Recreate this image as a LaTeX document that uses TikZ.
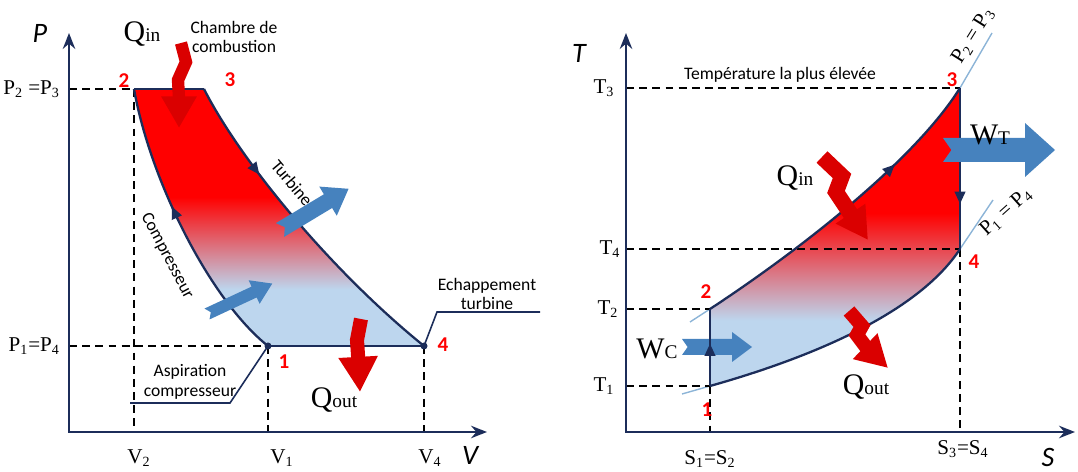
\documentclass[tikz,border=0pt]{standalone}
\usepackage{fontspec}
\setmainfont{Liberation Serif}
\newfontfamily\labelfont{Carlito}
\usetikzlibrary{arrows.meta,decorations.markings}

\definecolor{cyclenavy}{RGB}{28,45,90}
\definecolor{fadeblue}{RGB}{189,214,238}
\definecolor{heatred}{RGB}{218,0,0}
\definecolor{workblue}{RGB}{70,130,190}
\definecolor{isobar}{RGB}{140,180,215}

\pgfdeclareverticalshading{cyclefade}{100bp}{color(0bp)=(fadeblue); color(36bp)=(fadeblue); color(54bp)=(red); color(100bp)=(red)}

\tikzset{
  axisline/.style={{Stealth[length=9pt,width=7pt]}-{Stealth[length=9pt,width=7pt]}, line width=1.6pt, cyclenavy},
  guide/.style={dash pattern=on 4.5pt off 3pt, line width=1pt, black},
  process/.style={line width=1.3pt, cyclenavy},
  leader/.style={line width=0.9pt, cyclenavy},
  midarrow/.style={postaction={decorate}, decoration={markings, mark=at position #1 with {\arrow{Triangle[length=7pt,width=6pt]}}}},
  heat/.style={heatred, line width=8pt, -{Triangle[length=18pt,width=19pt]}},
  num/.style={text=red, font=\labelfont\bfseries\fontsize{12}{12}\selectfont},
  tick/.style={font=\fontsize{12}{12}\selectfont},
  note/.style={font=\labelfont\fontsize{10}{11}\selectfont, align=center},
  axislabel/.style={font=\labelfont\itshape\fontsize{16}{16}\selectfont},
  qlabel/.style={font=\fontsize{17}{17}\selectfont}
}
% heat / work label: big letter, small index
\newcommand\qsym[2]{#1{\fontsize{11}{11}\selectfont #2}}
% notched block arrow: x, y, angle, length, shaft half, head half, head length
\newcommand\workarrow[7]{%
  \fill[workblue, shift={(#1,#2)}, rotate=#3] (0,-#5) -- (#4-#7,-#5) -- (#4-#7,-#6) -- (#4,0)
    -- (#4-#7,#6) -- (#4-#7,#5) -- (0,#5) -- (#5*0.7,0) -- cycle;}

\begin{document}
\begin{tikzpicture}[x=0.02cm, y=-0.02cm]
\useasboundingbox (0,0) rectangle (1078,472);

% ---------- P-V diagram ----------
\coordinate (pv-o) at (69,432);
\coordinate (pv-p) at (69,33);
\coordinate (pv-v) at (487,432);
\coordinate (pv1) at (268,346);
\coordinate (pv2) at (134,89);
\coordinate (pv3) at (204,89);
\coordinate (pv4) at (424,346);

\shade[shading=cyclefade] (pv2) -- (pv3) .. controls (240,160) and (330,270) .. (pv4)
  -- (pv1) .. controls (210,300) and (150,180) .. (pv2) -- cycle;

\draw[guide] (pv2 -| pv-o) -- (pv2);
\draw[guide] (pv2) -- (pv2 |- pv-o);
\draw[guide] (pv1 -| pv-o) -- (pv1);
\draw[guide] (pv1) -- (pv1 |- pv-o);
\draw[guide] (pv4) -- (pv4 |- pv-o);

\draw[axisline] (pv-p) -- (pv-o) -- (pv-v);

\draw[process] (pv2) -- (pv3);
\draw[process] (pv1) -- (pv4);
\draw[process, midarrow=0.3] (pv3) .. controls (240,160) and (330,270) .. (pv4);
\draw[process, midarrow=0.58] (pv1) .. controls (210,300) and (150,180) .. (pv2);
\fill[cyclenavy] (pv1) circle (3.5);
\fill[cyclenavy] (pv4) circle (3.5);

\node[axislabel] (pv-plabel) at (40,33) {P};
\node[axislabel] (pv-vlabel) at (470,455) {V};
\node[tick, left] (pv-p23) at (66,89) {P\textsubscript{2} =P\textsubscript{3}};
\node[tick, left] (pv-p14) at (66,346) {P\textsubscript{1}=P\textsubscript{4}};
\node[tick] (pv-v2) at (139,458) {V\textsubscript{2}};
\node[tick] (pv-v1) at (282,458) {V\textsubscript{1}};
\node[tick] (pv-v4) at (430,458) {V\textsubscript{4}};

\node[num] (pv2-num) at (124,81) {2};
\node[num] (pv3-num) at (230,80) {3};
\node[num] (pv1-num) at (284,362) {1};
\node[num] (pv4-num) at (443,345) {4};

\node[note] (chambre) at (234,37) {Chambre de\\combustion};
\node[note, rotate=-50] (turb-text) at (292,183) {Turbine};
\node[note, rotate=-62] (comp-text) at (167,256) {Compresseur};
\node[note, inner sep=1pt] (aspiration) at (190,382) {Aspiration\\compresseur};
\node[note] (echappement) at (487,294) {Echappement\\turbine};

\coordinate (asp-a) at (130,403);
\coordinate (asp-b) at (230,403);
\draw[leader] (asp-a) -- (asp-b) -- (pv1);
\coordinate (ech-a) at (437,312);
\coordinate (ech-b) at (540,312);
\draw[leader] (pv4) -- (ech-a) -- (ech-b);

\workarrow{280}{230}{31}{80}{8}{17}{24}
\workarrow{207}{314}{25}{72}{6}{13}{20}

\coordinate (pv-qin-a) at (181,43);
\draw[heat, line width=7pt] (pv-qin-a) -- (186,62) -- (178,80) -- (179,98) -- (179,128);
\node[qlabel] (pv-qin) at (142,34) {\qsym{Q}{in}};
\coordinate (pv-qout-a) at (361,319);
\draw[heat, -{Triangle[length=20pt,width=21pt]}] (pv-qout-a) -- (357,340) -- (358,355) -- (360,392);
\node[qlabel] (pv-qout) at (334,400) {\qsym{Q}{out}};

% ---------- T-S diagram ----------
\coordinate (ts-o) at (626,432);
\coordinate (ts-t) at (626,33);
\coordinate (ts-s) at (1075,432);
\coordinate (ts1) at (710,386);
\coordinate (ts2) at (710,309);
\coordinate (ts3) at (960,88);
\coordinate (ts4) at (960,249);

\shade[shading=cyclefade] (ts1) -- (ts2) .. controls (800,250) and (915,160) .. (ts3)
  -- (ts4) .. controls (920,310) and (820,355) .. (ts1) -- cycle;

\coordinate (iso23-a) at (690,322);
\coordinate (iso23-b) at (992,33);
\coordinate (iso14-a) at (682,394);
\coordinate (iso14-b) at (993,200);
\draw[isobar, line width=0.8pt] (iso23-a) -- (ts2);
\draw[isobar, line width=0.8pt] (ts3) -- (iso23-b);
\draw[isobar, line width=0.8pt] (iso14-a) -- (ts1);
\draw[isobar, line width=0.8pt] (ts4) -- (iso14-b);

\draw[guide] (ts3 -| ts-o) -- (ts3);
\draw[guide] (ts4 -| ts-o) -- (ts4);
\draw[guide] (ts2 -| ts-o) -- (ts2);
\draw[guide] (ts1 -| ts-o) -- (ts1);
\draw[guide] (ts1) -- (ts1 |- ts-o);
\draw[guide] (ts4) -- (ts4 |- ts-o);

\draw[axisline] (ts-t) -- (ts-o) -- (ts-s);

\workarrow{682}{347}{0}{70}{8}{15}{20}

\draw[process, midarrow=0.55] (ts1) -- (ts2);
\draw[process, midarrow=0.7] (ts2) .. controls (800,250) and (915,160) .. (ts3);
\draw[process, midarrow=0.72] (ts3) -- (ts4);
\draw[process] (ts1) .. controls (820,355) and (920,310) .. (ts4);

\workarrow{943}{150}{0}{112}{12}{27}{30}

\node[axislabel] (ts-tlabel) at (579,53) {T};
\node[axislabel] (ts-slabel) at (1048,457) {S};
\node[tick] (ts-t3) at (604,88) {T\textsubscript{3}};
\node[tick] (ts-t4) at (610,249) {T\textsubscript{4}};
\node[tick] (ts-t2) at (608,309) {T\textsubscript{2}};
\node[tick] (ts-t1) at (604,386) {T\textsubscript{1}};
\node[tick] (ts-s12) at (710,459) {S\textsubscript{1}=S\textsubscript{2}};
\node[tick] (ts-s34) at (963,449) {S\textsubscript{3}=S\textsubscript{4}};

\node[num] (ts3-num) at (952,80) {3};
\node[num] (ts4-num) at (974,262) {4};
\node[num] (ts2-num) at (706,292) {2};
\node[num] (ts1-num) at (707,410) {1};

\node[note] (tmax) at (780,75) {Température la plus élevée};
\node[tick, rotate=58] (p23-text) at (973,36) {P\textsubscript{2} = P\textsubscript{3}};
\node[tick, rotate=42] (p14-text) at (1006,212) {P\textsubscript{1} = P\textsubscript{4}};

\coordinate (ts-qin-a) at (822,157);
\draw[heat, line width=9pt] (ts-qin-a) -- (842,176) -- (836,192) -- (848,210) -- (868,240);
\node[qlabel] (ts-qin) at (795,178) {\qsym{Q}{in}};
\coordinate (ts-qout-a) at (849,311);
\draw[heat] (ts-qout-a) -- (862,326) -- (857,335) -- (866,347) -- (888,368);
\node[qlabel] (ts-qout) at (866,387) {\qsym{Q}{out}};
\node[qlabel] (ts-wt) at (990,135) {\qsym{W}{T}};
\node[qlabel] (ts-wc) at (657,349) {\qsym{W}{C}};

\end{tikzpicture}
\end{document}
